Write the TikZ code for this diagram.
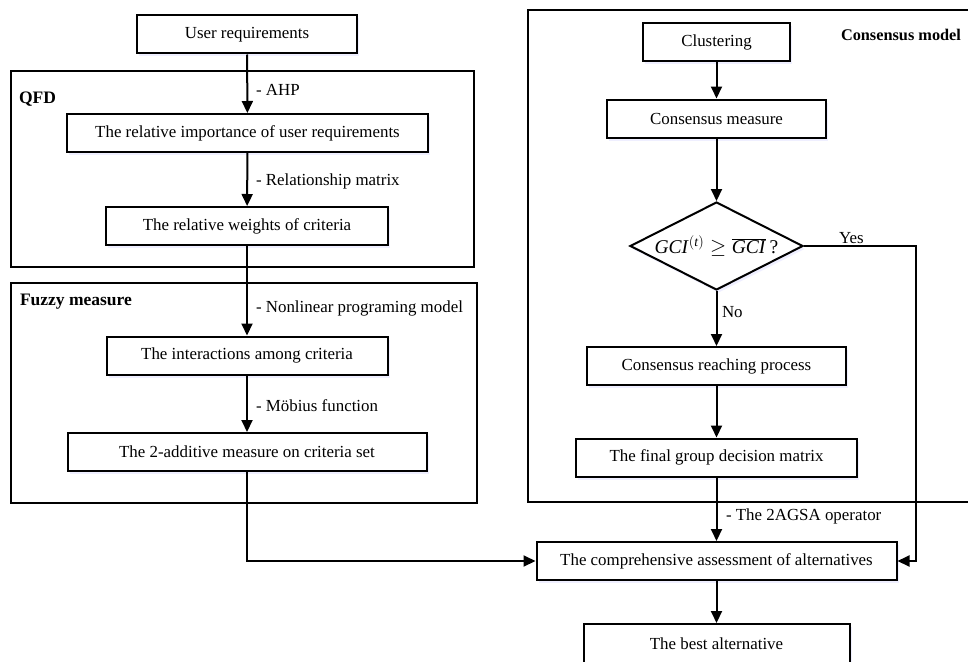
\documentclass[tikz,border=0pt]{standalone}
\usepackage{fontspec}
\setmainfont{Liberation Serif}
\usetikzlibrary{arrows.meta,shapes.geometric,shadows}
\begin{document}
\begin{tikzpicture}[x=1pt,y=-1pt,
  font=\fontsize{16.9}{20}\selectfont,
  line width=2pt,
  proc/.style={draw, fill=white, minimum height=38pt, inner sep=0pt,
    drop shadow={opacity=0.2, fill=blue!30, shadow xshift=2pt, shadow yshift=-3pt}},
  group/.style={draw, line width=2pt},
  grouplabel/.style={font=\fontsize{17.5}{20}\selectfont\bfseries, inner sep=0pt},
  elabel/.style={anchor=west, inner sep=0pt},
  flow/.style={-{Triangle[length=12pt,width=11pt]}},
  decision/.style={draw, fill=white, diamond, aspect=1.97, minimum width=173pt, minimum height=88pt, inner sep=0pt,
    font=\fontsize{19.5}{22}\selectfont,
    drop shadow={opacity=0.2, fill=blue!30, shadow xshift=2pt, shadow yshift=-3pt}}]
\useasboundingbox (0,0) rectangle (968,661);
\clip (0,0) rectangle (968,661);
\fill[white] (0,0) rectangle (968,661);

% group frames
\draw[group] (11,71) rectangle (474,267);
\draw[group] (11,283) rectangle (477,503);
\draw[group] (528,10) rectangle (990,502);
\node[grouplabel, anchor=west] (lqfd) at (18,99) {QFD};
\node[grouplabel, anchor=west] (lfuz) at (19,302) {Fuzzy measure};
\node[grouplabel, anchor=west, font=\fontsize{16.3}{20}\selectfont\bfseries] (lcon) at (840,35) {Consensus model};

% left column
\node[proc, minimum width=220pt] (ur) at (247,34.5) {User requirements};
\node[proc, minimum width=361pt] (ri) at (247.5,133) {The relative importance of user requirements};
\node[proc, minimum width=282pt] (rw) at (247,226) {The relative weights of criteria};
\node[proc, minimum width=281pt] (ic) at (247,355.5) {The interactions among criteria};
\node[proc, minimum width=359pt] (am) at (247,452) {The 2-additive measure on criteria set};

% right column
\node[proc, minimum width=147pt] (cl) at (716.5,42) {Clustering};
\node[proc, minimum width=219pt] (cm) at (716.5,118.5) {Consensus measure};
\node[decision] (dm) at (716.5,246) {\textit{GCI}$^{(\mathit{t})}\geq\overline{\mbox{\textit{GCI}}}\,$?};
\node[proc, minimum width=259pt] (crp) at (716.5,366) {Consensus reaching process};
\node[proc, minimum width=281pt] (fg) at (716.5,457.5) {The final group decision matrix};
\node[proc, minimum width=360pt] (ca) at (716.5,561) {The comprehensive assessment of alternatives};
\node[proc, minimum width=266pt, minimum height=40pt, anchor=north] (ba) at (716.5,623) {The best alternative};

% connectors
\draw[flow] (ur) -- (ri);
\draw[flow] (ri) -- (rw);
\draw[flow] (rw) -- (ic);
\draw[flow] (ic) -- (am);
\draw[flow] (am.south) |- (ca.west);
\draw[flow] (cl) -- (cm);
\draw[flow] (cm) -- (dm);
\draw[flow] (dm) -- (crp);
\draw[flow] (crp) -- (fg);
\draw[flow] (fg) -- (ca);
\coordinate (yc) at (916,246);
\draw[flow] (dm.east) -- (yc) |- (ca.east);
\draw[flow] (ca) -- (ba);

% edge labels
\node[elabel] (l1) at (255,90) {- AHP};
\node[elabel] (l2) at (255,181) {- Relationship matrix};
\node[elabel] (l3) at (255,308) {- Nonlinear programing model};
\node[elabel] (l4) at (255,406) {- Möbius function};
\node[elabel] (l5) at (725,516) {- The 2AGSA operator};
\node[elabel] (l6) at (721,312) {No};
\node[elabel] (l7) at (838,238) {Yes};
\end{tikzpicture}
\end{document}
